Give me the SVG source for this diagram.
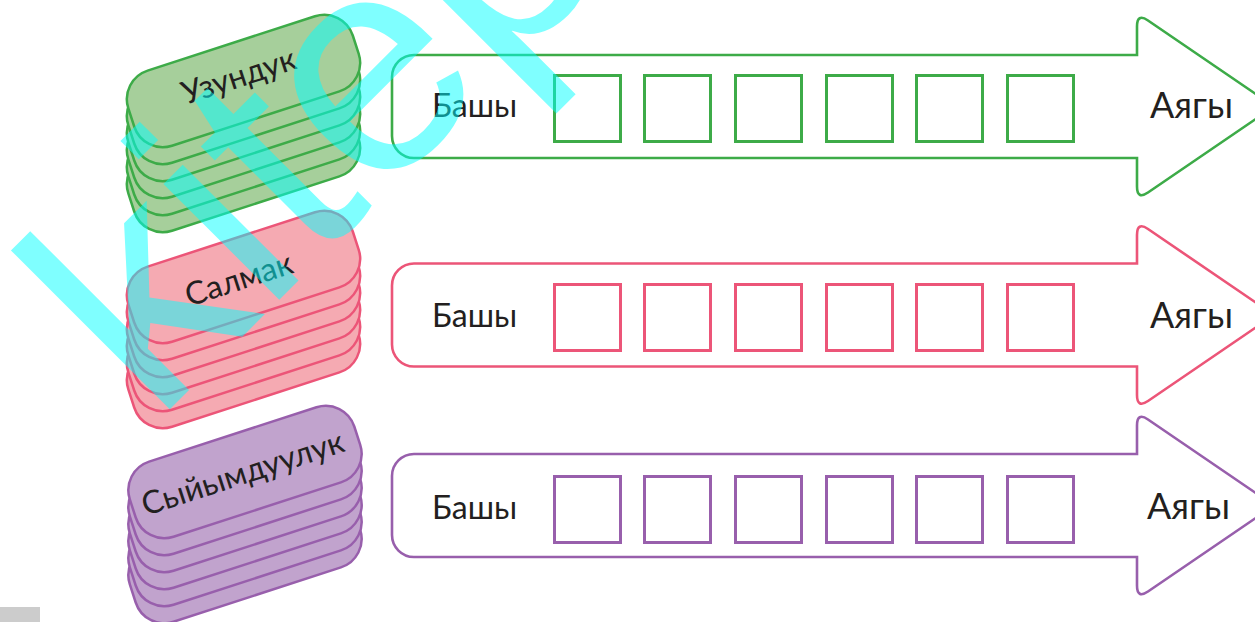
<svg xmlns="http://www.w3.org/2000/svg" xmlns:xlink="http://www.w3.org/1999/xlink" width="1255" height="622" viewBox="0 0 1255 622">
<style>
.lbl{font-family:Lato,"Liberation Sans",sans-serif;fill:#231f20}
.b{font-size:32px}
.e{font-size:36px}
.pl{font-size:32px;text-anchor:middle}
.gS{stroke:#3dab48}
.pS{stroke:#ec5578}
.vS{stroke:#985fac}
.gF{fill:#a6cf9b}
.pF{fill:#f5aab2}
.vF{fill:#c1a3cd}
.arr{fill:#fff;stroke-width:2.6}
.sq{fill:none;stroke-width:3}
.pill{stroke-width:2.5}
.wm{font-family:"Liberation Sans",Arial,sans-serif;font-size:310px;fill:#00ffff;fill-opacity:0.5}
</style>
<defs>
<rect id="pill" x="-118" y="-39.5" width="236" height="79" rx="30" ry="30"/>
<path id="arrow" d="M 414,-51.5 H 1137 V -80 Q 1137,-93.5 1148,-86 L 1274,0 L 1148,86 Q 1137,93.5 1137,80 V 51.5 H 414 A 22 22 0 0 1 392,29.5 V -29.5 A 22 22 0 0 1 414,-51.5 Z"/>
<g id="squares">
<rect x="554.5" y="-32" width="66" height="66"/>
<rect x="644.5" y="-32" width="66" height="66"/>
<rect x="735.5" y="-32" width="66" height="66"/>
<rect x="826.5" y="-32" width="66" height="66"/>
<rect x="916.5" y="-32" width="66" height="66"/>
<rect x="1007.5" y="-32" width="66" height="66"/>
</g>
</defs>

<g id="connectors"></g>

<g id="stack-uzunduk" class="pill gS gF">
<use xlink:href="#pill" href="#pill" transform="translate(243.5,166) rotate(-18)"/>
<use xlink:href="#pill" href="#pill" transform="translate(243.5,149) rotate(-18)"/>
<use xlink:href="#pill" href="#pill" transform="translate(243.5,132) rotate(-18)"/>
<use xlink:href="#pill" href="#pill" transform="translate(243.5,115) rotate(-18)"/>
<use xlink:href="#pill" href="#pill" transform="translate(243.5,98) rotate(-18)"/>
<use xlink:href="#pill" href="#pill" transform="translate(243.5,81) rotate(-18)"/>
<text class="lbl pl" stroke="none" transform="translate(239,77) rotate(-18)" y="10">Узундук</text>
</g>

<g id="stack-salmak" class="pill pS pF">
<use xlink:href="#pill" href="#pill" transform="translate(243.5,362) rotate(-18)"/>
<use xlink:href="#pill" href="#pill" transform="translate(243.5,345) rotate(-18)"/>
<use xlink:href="#pill" href="#pill" transform="translate(243.5,328) rotate(-18)"/>
<use xlink:href="#pill" href="#pill" transform="translate(243.5,311) rotate(-18)"/>
<use xlink:href="#pill" href="#pill" transform="translate(243.5,294) rotate(-18)"/>
<use xlink:href="#pill" href="#pill" transform="translate(243.5,277) rotate(-18)"/>
<text class="lbl pl" stroke="none" transform="translate(239,280) rotate(-18)" y="10">Салмак</text>
</g>

<g id="stack-syiymduuluk" class="pill vS vF">
<use xlink:href="#pill" href="#pill" transform="translate(245,557) rotate(-18)"/>
<use xlink:href="#pill" href="#pill" transform="translate(245,540) rotate(-18)"/>
<use xlink:href="#pill" href="#pill" transform="translate(245,523) rotate(-18)"/>
<use xlink:href="#pill" href="#pill" transform="translate(245,506) rotate(-18)"/>
<use xlink:href="#pill" href="#pill" transform="translate(245,489) rotate(-18)"/>
<use xlink:href="#pill" href="#pill" transform="translate(245,472) rotate(-18)"/>
<text class="lbl pl" stroke="none" transform="translate(243,474) rotate(-18)" y="10">Сыйымдуулук</text>
</g>

<g id="arrow-green">
<use xlink:href="#arrow" href="#arrow" class="arr gS" transform="translate(0,106.5)"/>
<use xlink:href="#squares" href="#squares" class="sq gS" transform="translate(0,107.5)"/>
<text class="lbl b" x="432" y="117">Башы</text>
<text class="lbl e" x="1150" y="118">Аягы</text>
</g>

<g id="arrow-pink">
<use xlink:href="#arrow" href="#arrow" class="arr pS" transform="translate(0,315)"/>
<use xlink:href="#squares" href="#squares" class="sq pS" transform="translate(0,316.5)"/>
<text class="lbl b" x="432" y="327">Башы</text>
<text class="lbl e" x="1150" y="328">Аягы</text>
</g>

<g id="arrow-purple">
<use xlink:href="#arrow" href="#arrow" class="arr vS" transform="translate(0,505.5)"/>
<use xlink:href="#squares" href="#squares" class="sq vS" transform="translate(0,508.5)"/>
<text class="lbl b" x="432" y="519">Башы</text>
<text class="lbl e" x="1147" y="519">Аягы</text>
</g>

<rect x="0" y="607" width="40" height="15" fill="#cccccc"/>

<text class="wm" transform="translate(155,424) rotate(-45)">kitep</text>
</svg>
